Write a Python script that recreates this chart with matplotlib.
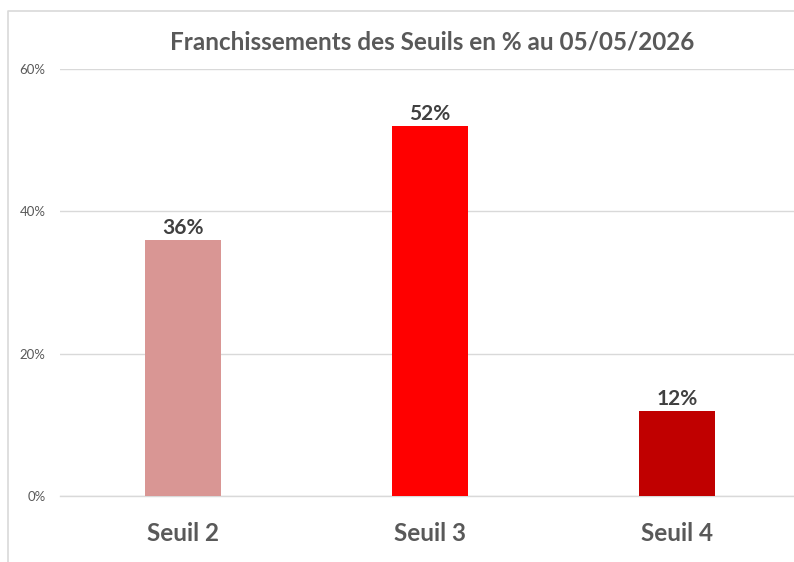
import matplotlib
matplotlib.use("Agg")
import matplotlib.pyplot as plt
from matplotlib.lines import Line2D
from matplotlib.ticker import FuncFormatter

categories = ["Seuil 2", "Seuil 3", "Seuil 4"]
values = [0.36, 0.52, 0.12]
bar_colors = ["#D99694", "#FF0000", "#C00000"]
title = "Franchissements des Seuils en % au 05/05/2026"
yticks = [0, 0.2, 0.4, 0.6]

plt.rcParams['font.family'] = ['Lato', 'DejaVu Sans']

W, H = 794, 562
fig = plt.figure(figsize=(W / 100, H / 100), dpi=100)
ax = fig.add_axes([59.5 / W, 1 - 496 / H, 741 / W, (496 - 69) / H])

x = list(range(len(categories)))
bars = ax.bar(x, values, width=0.31, color=bar_colors, zorder=3)
for xi, v in zip(x, values):
    ax.annotate(f"{round(v*100)}%", (xi, v), xytext=(0, 1.5), textcoords="offset points",
                ha="center", va="bottom", fontsize=15, fontweight="bold", color="#404040")

ax.set_xlim(-0.5, 2.5)
ax.set_ylim(0, 0.6)
ax.set_yticks(yticks)
ax.yaxis.set_major_formatter(FuncFormatter(lambda v, p: f"{round(v*100)}%"))
ax.set_xticks(x)
ax.set_xticklabels(categories, fontsize=17.5, fontweight="bold", color="#595959")
ax.tick_params(axis="x", length=0, pad=19)
ax.tick_params(axis="y", length=0, pad=10, labelsize=9.5, labelcolor="#595959")
for lbl in ax.get_yticklabels():
    lbl.set_ha("right")
ax.grid(axis="y", color="#D9D9D9", linewidth=1, zorder=0)
for s in ["top", "right", "left"]:
    ax.spines[s].set_visible(False)
ax.spines["bottom"].set_color("#D9D9D9")
ax.spines["bottom"].set_linewidth(1)

fig.text(432 / W, 1 - 42 / H, title, ha="center", va="center", fontsize=17.5,
         fontweight="bold", color="#595959")

bx = 8 / W
by = 1 - 10.5 / H
fig.add_artist(Line2D([bx, bx, 1.0], [0, by, by], transform=fig.transFigure,
                      color="#D9D9D9", linewidth=1.2))

fig.savefig("out.png", dpi=100)
